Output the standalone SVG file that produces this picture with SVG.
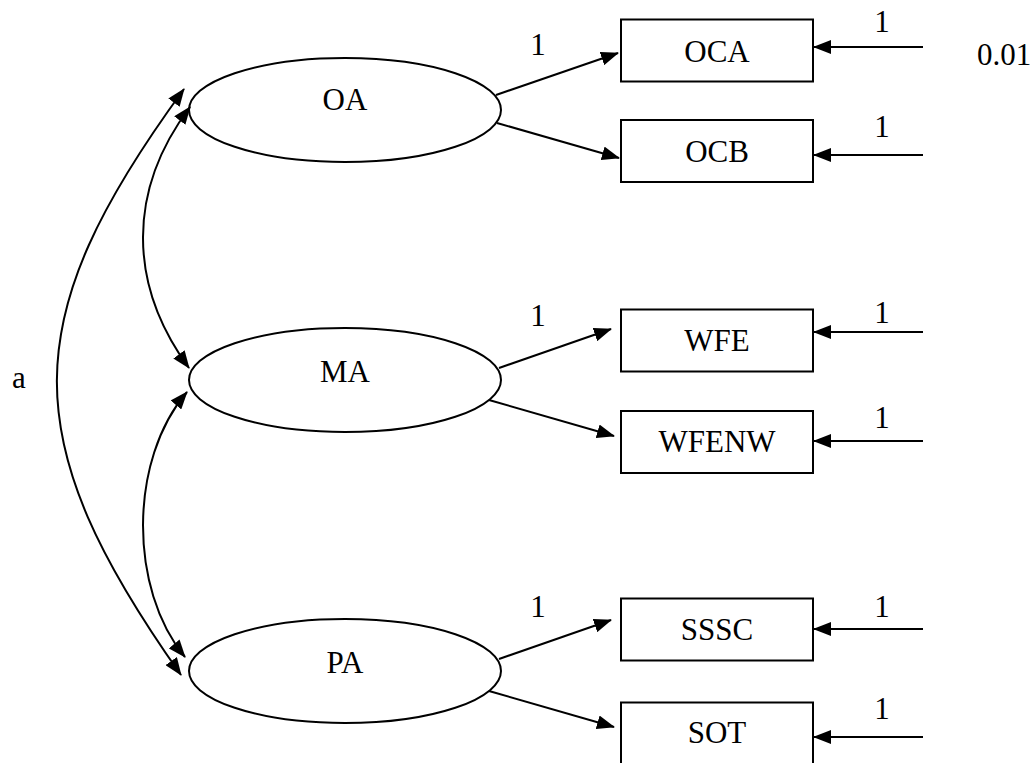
<svg xmlns="http://www.w3.org/2000/svg" width="1033" height="763" viewBox="0 0 1033 763">
  <style>
    text { font-family: "Liberation Serif", "Times New Roman", serif; font-size: 31px; fill: #000; }
    .mid { text-anchor: middle; }
    .latent { fill: #fff; stroke: #000; stroke-width: 2; }
    .obs { fill: #fff; stroke: #000; stroke-width: 2; }
    .edge { fill: none; stroke: #000; stroke-width: 2; }
    .arrow { marker-end: url(#ah); }
    .both { marker-start: url(#ah); marker-end: url(#ah); }
  </style>
  <defs>
    <marker id="ah" markerUnits="userSpaceOnUse" viewBox="0 0 18 14" markerWidth="18" markerHeight="14" refX="17" refY="7" orient="auto-start-reverse">
      <path d="M0,0 L18,7 L0,14 z" fill="#000"/>
    </marker>
  </defs>
  <rect width="1033" height="763" fill="#fff"/>

  <!-- latent factors -->
  <g id="OA">
    <ellipse class="latent" cx="345" cy="110" rx="156" ry="52"/>
    <text class="mid" x="345" y="110">OA</text>
  </g>
  <g id="MA">
    <ellipse class="latent" cx="345" cy="380" rx="156" ry="52"/>
    <text class="mid" x="345" y="382">MA</text>
  </g>
  <g id="PA">
    <ellipse class="latent" cx="345" cy="671" rx="156" ry="52"/>
    <text class="mid" x="345" y="673">PA</text>
  </g>

  <!-- observed indicators -->
  <g id="OCA">
    <rect class="obs" x="621" y="19.5" width="192" height="62"/>
    <text class="mid" x="717" y="62">OCA</text>
  </g>
  <g id="OCB">
    <rect class="obs" x="621" y="120" width="192" height="62"/>
    <text class="mid" x="717" y="162">OCB</text>
  </g>
  <g id="WFE">
    <rect class="obs" x="621" y="309.5" width="192" height="62"/>
    <text class="mid" x="717" y="351">WFE</text>
  </g>
  <g id="WFENW">
    <rect class="obs" x="621" y="411" width="192" height="62"/>
    <text class="mid" x="717" y="452">WFENW</text>
  </g>
  <g id="SSSC">
    <rect class="obs" x="621" y="598.5" width="192" height="62"/>
    <text class="mid" x="717" y="640">SSSC</text>
  </g>
  <g id="SOT">
    <rect class="obs" x="621" y="702.5" width="192" height="62"/>
    <text class="mid" x="717" y="743">SOT</text>
  </g>

  <!-- connectors -->
  <g id="connectors">
    <!-- covariances between factors -->
    <path class="edge both" d="M184,89 C15,320 15,440 181,675"/>
    <path class="edge both" d="M190,107 C127.5,190 127.5,284 189,368"/>
    <path class="edge both" d="M187,392 C128.7,460 128.7,589 185,657"/>

    <!-- loadings -->
    <line class="edge arrow" x1="496" y1="95" x2="618" y2="53"/>
    <line class="edge arrow" x1="497" y1="123" x2="619" y2="158"/>
    <line class="edge arrow" x1="499" y1="368" x2="611" y2="329"/>
    <line class="edge arrow" x1="489" y1="400" x2="614" y2="436"/>
    <line class="edge arrow" x1="499" y1="659" x2="611" y2="620"/>
    <line class="edge arrow" x1="489" y1="691" x2="614" y2="727"/>

    <!-- error terms -->
    <line class="edge arrow" x1="923" y1="47" x2="814" y2="47"/>
    <line class="edge arrow" x1="923" y1="155" x2="814" y2="155"/>
    <line class="edge arrow" x1="923" y1="332" x2="814" y2="332"/>
    <line class="edge arrow" x1="923" y1="441" x2="814" y2="441"/>
    <line class="edge arrow" x1="923" y1="629" x2="814" y2="629"/>
    <line class="edge arrow" x1="923" y1="737" x2="814" y2="737"/>
  </g>

  <!-- path labels -->
  <g id="labels">
    <text class="mid" x="538" y="55">1</text>
    <text class="mid" x="538" y="326">1</text>
    <text class="mid" x="538" y="617">1</text>

    <text class="mid" x="882" y="32">1</text>
    <text class="mid" x="882" y="137">1</text>
    <text class="mid" x="882" y="323">1</text>
    <text class="mid" x="882" y="428">1</text>
    <text class="mid" x="882" y="617">1</text>
    <text class="mid" x="882" y="719">1</text>

    <text x="977" y="65">0.01</text>
    <text x="12" y="388">a</text>
  </g>
</svg>
